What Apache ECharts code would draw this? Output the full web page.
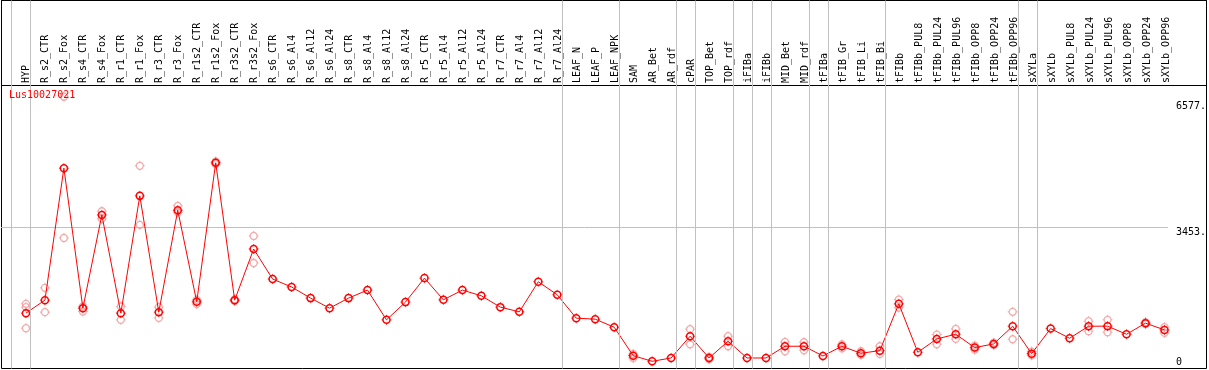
<!DOCTYPE html>
<html>
<head>
<meta charset="utf-8">
<script src="https://cdn.jsdelivr.net/npm/echarts@6/dist/echarts.min.js"></script>
<style>
  html, body { margin: 0; padding: 0; background: #fff; }
  #chart { width: 1209px; height: 370px; }
</style>
</head>
<body>
<div id="chart"></div>
<script>
var geneName = 'Lus10027021';

var sampleNames = ['HYP', 'R_s2_CTR', 'R_s2_Fox', 'R_s4_CTR', 'R_s4_Fox', 'R_r1_CTR', 'R_r1_Fox', 'R_r3_CTR', 'R_r3_Fox',
    'R_r1s2_CTR', 'R_r1s2_Fox', 'R_r3s2_CTR', 'R_r3s2_Fox', 'R_s6_CTR', 'R_s6_Al4', 'R_s6_Al12', 'R_s6_Al24',
    'R_s8_CTR', 'R_s8_Al4', 'R_s8_Al12', 'R_s8_Al24', 'R_r5_CTR', 'R_r5_Al4', 'R_r5_Al12', 'R_r5_Al24',
    'R_r7_CTR', 'R_r7_Al4', 'R_r7_Al12', 'R_r7_Al24', 'LEAF_N', 'LEAF_P', 'LEAF_NPK', 'SAM', 'AR_Bet', 'AR_rdf',
    'cPAR', 'TOP_Bet', 'TOP_rdf', 'iFIBa', 'iFIBb', 'MID_Bet', 'MID_rdf', 'tFIBa', 'tFIB_Gr', 'tFIB_Li', 'tFIB_Bi',
    'tFIBb', 'tFIBb_PUL8', 'tFIBb_PUL24', 'tFIBb_PUL96', 'tFIBb_OPP8', 'tFIBb_OPP24', 'tFIBb_OPP96',
    'sXYLa', 'sXYLb', 'sXYLb_PUL8', 'sXYLb_PUL24', 'sXYLb_PUL96', 'sXYLb_OPP8', 'sXYLb_OPP24', 'sXYLb_OPP96'];

// mean expression per sample
var meanValues = [1333, 1655, 4922, 1457, 3765, 1333, 4236, 1357, 3880,
    1613, 5055, 1655, 2921, 2176, 1980, 1705, 1457,
    1705, 1904, 1167, 1606, 2201, 1663, 1904, 1762,
    1482, 1365, 2110, 1787, 1209, 1184, 985, 281, 141, 223,
    762, 223, 638, 223, 223, 514, 514, 273, 514, 340, 405,
    1564, 364, 695, 811, 480, 571, 1010,
    331, 951, 712, 1010, 1010, 811, 1085, 918];

// replicate values per sample (empty when they sit on the mean)
var replicateValues = [[1564, 1482, 960], [1960, 1357], [6690, 3194], [1497, 1373], [3855, 3666], [1497, 1167],
    [4981, 3517], [1482, 1216], [3988, 3830], [1663, 1556], [5088, 5021], [1680, 1630], [3244, 2574],
    [], [], [], [], [], [], [], [], [], [], [], [], [], [], [], [], [], [], [],
    [323, 223], [], [], [936, 563], [250, 190], [762, 514], [], [], [620, 389], [613, 414], [],
    [560, 460], [390, 300], [514, 323], [1670, 1470], [], [802, 563], [943, 695], [530, 430], [600, 540],
    [1365, 687], [380, 290], [], [], [1134, 886], [1167, 861], [], [1110, 1060], [985, 844]];

// last sample index of each tissue group (vertical separators)
var groupEnds = [-1, 0, 28, 31, 34, 35, 37, 38, 39, 41, 42, 45, 52, 53, 60];

var yMax = 6577;
var yMid = 3453;

var mainData = meanValues.map(function (v, i) { return [i, v]; });
var repData = [];
replicateValues.forEach(function (list, i) {
    list.forEach(function (v) { repData.push([i, v]); });
});

// small ticks around each circle
var tickSymbol = 'path://M5,0L5,1.6M5,8.4L5,10M0,5L1.6,5M8.4,5L10,5';
var monoFont = 'DejaVu Sans Mono';
var xMin = -1.315, xMax = 60.18;

var chart = echarts.init(document.getElementById('chart'), null, { renderer: 'canvas' });

var option = {
    animation: false,
    title: {
        text: geneName,
        left: 9,
        top: 90,
        padding: 0,
        textStyle: { color: '#ff0000', fontSize: 10, fontWeight: 'normal', fontFamily: monoFont }
    },
    grid: [
        { left: 1.5, top: 0.5, right: 2.5, bottom: 1.5, show: true, borderColor: '#000', borderWidth: 1, backgroundColor: 'transparent' },
        { left: 1.5, top: 0.5, right: 2.5, height: 85, show: true, borderColor: '#000', borderWidth: 1, backgroundColor: 'transparent' },
        { left: 1, top: 0.5, right: 39, bottom: 1.5 },
        { left: 1, top: 101.3, right: 39, bottom: 3 },
        { left: 16.5, top: 85, right: 32.9, height: 10 }
    ],
    xAxis: [
        { gridIndex: 0, type: 'value', show: false },
        { gridIndex: 1, type: 'value', show: false },
        { gridIndex: 2, type: 'value', show: false, min: xMin, max: xMax },
        { gridIndex: 3, type: 'value', show: false, min: xMin, max: xMax },
        {
            gridIndex: 4, type: 'category', position: 'top', data: sampleNames,
            axisLine: { show: false }, axisTick: { show: false }, splitLine: { show: false },
            axisLabel: { interval: 0, rotate: 90, margin: 2, fontSize: 10, fontFamily: monoFont, color: '#000' }
        }
    ],
    yAxis: [
        { gridIndex: 0, type: 'value', show: false },
        { gridIndex: 1, type: 'value', show: false },
        { gridIndex: 2, type: 'value', show: false, min: 0, max: 1 },
        {
            gridIndex: 3, type: 'value', position: 'right', min: 0, max: yMax, interval: yMid,
            axisLine: { show: false }, axisTick: { show: false }, splitLine: { show: false },
            axisLabel: {
                margin: 8, fontSize: 10, fontFamily: monoFont, color: '#000', verticalAlign: 'top',
                formatter: function (v) { return v === 0 ? '' : v + '.'; }
            }
        },
        {
            gridIndex: 3, type: 'value', position: 'right', min: 0, max: yMax, interval: yMid,
            axisLine: { show: false }, axisTick: { show: false }, splitLine: { show: false },
            axisLabel: {
                margin: 8, fontSize: 10, fontFamily: monoFont, color: '#000', verticalAlign: 'bottom',
                formatter: function (v) { return v === 0 ? '0' : ''; }
            }
        },
        { gridIndex: 4, type: 'value', show: false }
    ],
    series: [
        {
            name: 'dividers',
            type: 'line',
            xAxisIndex: 2,
            yAxisIndex: 2,
            data: [],
            silent: true,
            markLine: {
                silent: true,
                symbol: ['none', 'none'],
                label: { show: false },
                lineStyle: { color: '#c0c0c0', width: 1, type: 'solid' },
                data: groupEnds.map(function (i) { return { xAxis: i + 0.21 }; })
            }
        },
        {
            name: 'replicates',
            type: 'scatter',
            xAxisIndex: 3,
            yAxisIndex: 3,
            data: repData,
            clip: false,
            symbol: 'circle',
            symbolSize: 7,
            itemStyle: { color: 'rgba(0,0,0,0)', borderColor: '#f09a9a', borderWidth: 1.3 },
            z: 3
        },
        {
            name: 'replicate ticks',
            type: 'scatter',
            xAxisIndex: 3,
            yAxisIndex: 3,
            data: repData,
            clip: false,
            silent: true,
            symbol: tickSymbol,
            symbolSize: 10,
            itemStyle: { color: 'rgba(0,0,0,0)', borderColor: '#f09a9a', borderWidth: 1 },
            z: 3
        },
        {
            name: geneName,
            type: 'line',
            xAxisIndex: 3,
            yAxisIndex: 3,
            data: mainData,
            clip: false,
            showAllSymbol: true,
            symbol: 'circle',
            symbolSize: 7,
            lineStyle: { color: '#ff0000', width: 1 },
            itemStyle: { color: 'rgba(0,0,0,0)', borderColor: '#ff0000', borderWidth: 1.5 },
            z: 4,
            markLine: {
                silent: true,
                symbol: ['none', 'none'],
                label: { show: false },
                lineStyle: { color: '#c0c0c0', width: 1, type: 'solid' },
                data: [{ yAxis: yMid }],
                z: 1
            }
        },
        {
            name: 'mean ticks',
            type: 'scatter',
            xAxisIndex: 3,
            yAxisIndex: 3,
            data: mainData,
            clip: false,
            silent: true,
            symbol: tickSymbol,
            symbolSize: 10,
            itemStyle: { color: 'rgba(0,0,0,0)', borderColor: '#ff0000', borderWidth: 1 },
            z: 4
        }
    ]
};

chart.setOption(option);
</script>
</body>
</html>
